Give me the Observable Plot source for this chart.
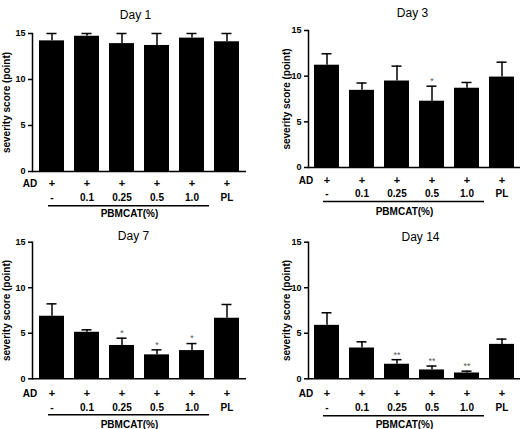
<!DOCTYPE html>
<html>
<head>
<meta charset="utf-8">
<script src="https://cdn.jsdelivr.net/npm/d3@7"></script>
<script src="https://cdn.jsdelivr.net/npm/@observablehq/plot@0.6"></script>
<style>
  html, body { margin: 0; padding: 0; background: white; }
  #wrap { position: relative; width: 527px; height: 429px; overflow: hidden; background: white; }
  .panel { position: absolute; }
  .panel svg { overflow: visible; }
</style>
</head>
<body>
<div id="wrap"></div>
<script>
// ---- data ----
const groups = ["-", "0.1", "0.25", "0.5", "1.0", "PL"];
const adRow = ["+", "+", "+", "+", "+", "+"];
const yTicks = [0, 5, 10, 15];
const yLabel = "severity score (point)";
const groupLabel = "PBMCAT(%)";

const day1Mean = [14.2, 14.7, 13.9, 13.7, 14.5, 14.1];
const day1Err  = [0.8, 0.3, 1.1, 1.3, 0.5, 0.9];
const day1Sig  = ["", "", "", "", "", ""];

const day3Mean = [11.2, 8.45, 9.47, 7.26, 8.68, 9.9];
const day3Err  = [1.25, 0.8, 1.63, 1.64, 0.63, 1.63];
const day3Sig  = ["", "", "", "*", "", ""];

const day7Mean = [6.87, 5.11, 3.66, 2.63, 3.1, 6.65];
const day7Err  = [1.36, 0.27, 0.8, 0.55, 0.77, 1.51];
const day7Sig  = ["", "", "*", "*", "*", ""];

const day14Mean = [5.87, 3.38, 1.6, 0.97, 0.64, 3.78];
const day14Err  = [1.38, 0.68, 0.5, 0.43, 0.2, 0.58];
const day14Sig  = ["", "", "**", "**", "**", ""];

// ---- layout ----
const panels = [
  {title: "Day 1", mean: day1Mean, err: day1Err, sig: day1Sig,
   left: 0, top: 0, w: 263, h: 220, mt: 33, mb: 49, ml: 32, mr: 17,
   tdx: -4, tdy: -18, ydx: -25.5, rows: [12, 26.5, 34.3, 42.6]},
  {title: "Day 3", mean: day3Mean, err: day3Err, sig: day3Sig,
   left: 263, top: 0, w: 264, h: 220, mt: 30, mb: 53, ml: 45, mr: 7,
   tdx: -2, tdy: -17, ydx: -22, rows: [13, 26, 34, 44]},
  {title: "Day 7", mean: day7Mean, err: day7Err, sig: day7Sig,
   left: 0, top: 214, w: 263, h: 215, mt: 27.7, mb: 50.7, ml: 32, mr: 17,
   tdx: -6, tdy: -6, ydx: -25.5, rows: [15, 29, 36, 46]},
  {title: "Day 14", mean: day14Mean, err: day14Err, sig: day14Sig,
   left: 263, top: 214, w: 264, h: 215, mt: 27.7, mb: 50.7, ml: 45, mr: 7,
   tdx: 6, tdy: -5, ydx: -22, rows: [15, 29, 37, 46]}
];

const font = "'Liberation Sans', Arial, Helvetica, sans-serif";
const wrap = document.getElementById("wrap");

for (const p of panels) {
  const data = groups.map((g, i) => ({g, v: p.mean[i], e: p.err[i], s: p.sig[i], ad: adRow[i]}));
  const chart = Plot.plot({
    width: p.w,
    height: p.h,
    marginTop: p.mt,
    marginBottom: p.mb,
    marginLeft: p.ml,
    marginRight: p.mr,
    style: {fontFamily: font, fontSize: "9px", fontWeight: "bold", background: "transparent", color: "black", overflow: "visible"},
    x: {domain: groups, axis: null, paddingInner: 0.29, paddingOuter: 0.15},
    y: {domain: [0, 15], label: null, axis: null},
    marks: [
      Plot.axisY({ticks: yTicks, tickSize: 4, tickPadding: 3, strokeWidth: 1.5, label: null}),
      Plot.frame({anchor: "left", stroke: "black", strokeWidth: 1.5}),
      Plot.barY(data, {x: "g", y: "v", fill: "black"}),
      Plot.ruleX(data, {x: "g", y1: "v", y2: d => d.v + d.e, stroke: "black", strokeWidth: 1.5}),
      Plot.tickY(data, {x: "g", y: d => d.v + d.e, inset: 7.5, stroke: "black", strokeWidth: 1.5}),
      Plot.text(data, {x: "g", y: d => d.v + d.e, text: "s", dy: -5, fontSize: 9, fill: "#555", fontWeight: "normal"}),
      Plot.ruleY([0], {stroke: "black", strokeWidth: 1.5}),
      Plot.text(data, {x: "g", text: "ad", frameAnchor: "bottom", textAnchor: "middle", lineAnchor: "middle", dy: p.rows[0], fontSize: 11}),
      Plot.text(["AD"], {frameAnchor: "bottom-left", textAnchor: "middle", lineAnchor: "middle", dx: -2.5, dy: p.rows[0], fontSize: 10}),
      Plot.text(data, {x: "g", text: "g", frameAnchor: "bottom", textAnchor: "middle", lineAnchor: "middle", dy: p.rows[1], fontSize: 10}),
      Plot.ruleY([0], {x1: () => groups[0], x2: () => groups[4], dy: p.rows[2], insetLeft: 9, insetRight: -5, stroke: "black", strokeWidth: 1.5}),
      Plot.text([groupLabel], {x: () => groups[2], frameAnchor: "bottom", textAnchor: "middle", lineAnchor: "middle", dx: 7.5, dy: p.rows[3], fontSize: 10}),
      Plot.text([p.title], {frameAnchor: "top", textAnchor: "middle", lineAnchor: "middle", dx: p.tdx, dy: p.tdy, fontSize: 12, fontWeight: "normal"}),
      Plot.text([yLabel], {frameAnchor: "left", rotate: -90, textAnchor: "middle", lineAnchor: "middle", dx: p.ydx, fontSize: 10})
    ]
  });
  const div = document.createElement("div");
  div.className = "panel";
  div.style.left = p.left + "px";
  div.style.top = p.top + "px";
  div.appendChild(chart);
  wrap.appendChild(div);
}
</script>
</body>
</html>
